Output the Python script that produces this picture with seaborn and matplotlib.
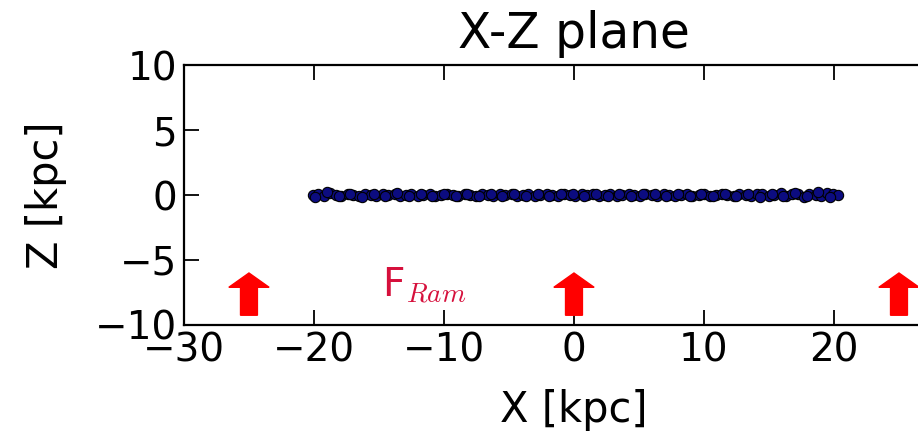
import pandas as pd
import matplotlib.pyplot as plt
import seaborn as sns

# disk particles seen edge-on
x_kpc = [-20.1, -19.7, -19.2, -18.8, -18.3, -17.9, -17.4, -17.0, -16.5, -16.1,
         -15.6, -15.2, -14.7, -14.3, -13.8, -13.4, -12.9, -12.5, -12.0, -11.6,
         -11.1, -10.7, -10.2, -9.8, -9.3, -8.9, -8.4, -8.0, -7.5, -7.1,
         -6.6, -6.2, -5.7, -5.3, -4.8, -4.4, -3.9, -3.5, -3.0, -2.6,
         -2.1, -1.7, -1.2, -0.8, -0.3, 0.1, 0.6, 1.0, 1.5, 1.9,
         2.4, 2.8, 3.3, 3.7, 4.2, 4.6, 5.1, 5.5, 6.0, 6.4,
         6.9, 7.3, 7.8, 8.2, 8.7, 9.1, 9.6, 10.0, 10.5, 10.9,
         11.4, 11.8, 12.3, 12.7, 13.2, 13.6, 14.1, 14.5, 15.0, 15.4,
         15.9, 16.3, 16.8, 17.2, 17.7, 18.1, 18.6, 19.0, 19.5, 19.9, 20.3]
z_kpc = [0.0, 0.1, -0.1, 0.15, 0.0, -0.1, 0.1, 0.0, -0.05, 0.1,
         0.0, -0.1, 0.05, 0.0, 0.1, -0.05, 0.0, 0.1, -0.1, 0.0,
         0.05, -0.05, 0.0, 0.1, 0.0, -0.1, 0.05, 0.0, -0.05, 0.1,
         0.0, -0.05, 0.05, 0.0, 0.1, -0.1, 0.0, 0.05, -0.05, 0.0,
         0.1, 0.0, -0.05, 0.05, 0.0, -0.1, 0.05, 0.0, 0.1, -0.05,
         0.0, 0.05, -0.1, 0.0, 0.1, 0.0, -0.05, 0.05, 0.0, -0.1,
         0.1, 0.0, -0.05, 0.0, 0.05, -0.1, 0.0, 0.1, -0.05, 0.0,
         0.05, 0.0, -0.1, 0.1, 0.0, -0.05, 0.05, 0.1, -0.1, 0.0,
         0.15, -0.1, 0.05, 0.1, -0.15, 0.1, 0.0, -0.1, 0.15, 0.05, 0.0]
# second batch of particles filling the gaps
x2_kpc = [-19.9, -19.0, -18.1, -17.2, -16.3, -15.4, -14.5, -13.6, -12.7, -11.8,
          -10.9, -10.0, -9.1, -8.2, -7.3, -6.4, -5.5, -4.6, -3.7, -2.8,
          -1.9, -1.0, -0.1, 0.8, 1.7, 2.6, 3.5, 4.4, 5.3, 6.2,
          7.1, 8.0, 8.9, 9.8, 10.7, 11.6, 12.5, 13.4, 14.3, 15.2,
          16.1, 17.0, 17.9, 18.8, 19.7]
z2_kpc = [-0.15, 0.2, -0.1, 0.05, -0.15, 0.1, -0.05, 0.15, -0.1, 0.05,
          -0.1, 0.1, -0.05, 0.1, -0.1, 0.05, -0.1, 0.1, -0.05, 0.1,
          -0.1, 0.05, 0.1, -0.1, 0.05, -0.05, 0.1, -0.1, 0.05, 0.1,
          -0.05, 0.1, -0.1, 0.05, -0.1, 0.1, -0.05, 0.1, -0.15, 0.1,
          -0.1, 0.15, -0.1, 0.2, -0.15]

# ram pressure arrows
arrow_x = [-25, 0, 25]
arrow_base = -9.25
arrow_len = 3.25

df = pd.DataFrame({"x": x_kpc + x2_kpc, "z": z_kpc + z2_kpc})

sns.set_style("ticks")
plt.rcParams["font.family"] = ["DejaVu Sans"]
plt.rcParams["mathtext.fontset"] = "cm"
plt.rcParams["axes.linewidth"] = 1.6
plt.rcParams["text.color"] = "black"
plt.rcParams["axes.labelcolor"] = "black"
plt.rcParams["xtick.color"] = "black"
plt.rcParams["ytick.color"] = "black"
plt.rcParams["axes.edgecolor"] = "black"

fig = plt.figure(figsize=(9.18, 4.36), dpi=100)
ax = fig.add_axes([0.2004, 0.2546, 0.8497, 0.5963])

sns.scatterplot(data=df, x="x", y="z", ax=ax, color="#0c0c80", edgecolor="black",
                linewidth=0.8, s=55, zorder=3)

for xa in arrow_x:
    ax.arrow(xa, arrow_base, 0, arrow_len, width=1.3, head_width=3.1, head_length=1.1,
             length_includes_head=True, color="red", zorder=4)

ax.text(-14.8, -7.85, r"F$_{Ram}$", color="#d6103c", fontsize=28, va="baseline")

ax.set_xlim(-30, 30)
ax.set_ylim(-10, 10)
ax.set_xticks([-30, -20, -10, 0, 10, 20, 30])
ax.set_yticks([-10, -5, 0, 5, 10])
ax.tick_params(direction="in", length=11, width=1.3, labelsize=28, top=True, right=True, pad=5)
ax.set_xlabel("X [kpc]", fontsize=30, labelpad=14)
ax.set_ylabel("Z [kpc]", fontsize=30, labelpad=20)
ax.set_title("X-Z plane", fontsize=35, pad=12)

fig.savefig("out.png", dpi=100)
